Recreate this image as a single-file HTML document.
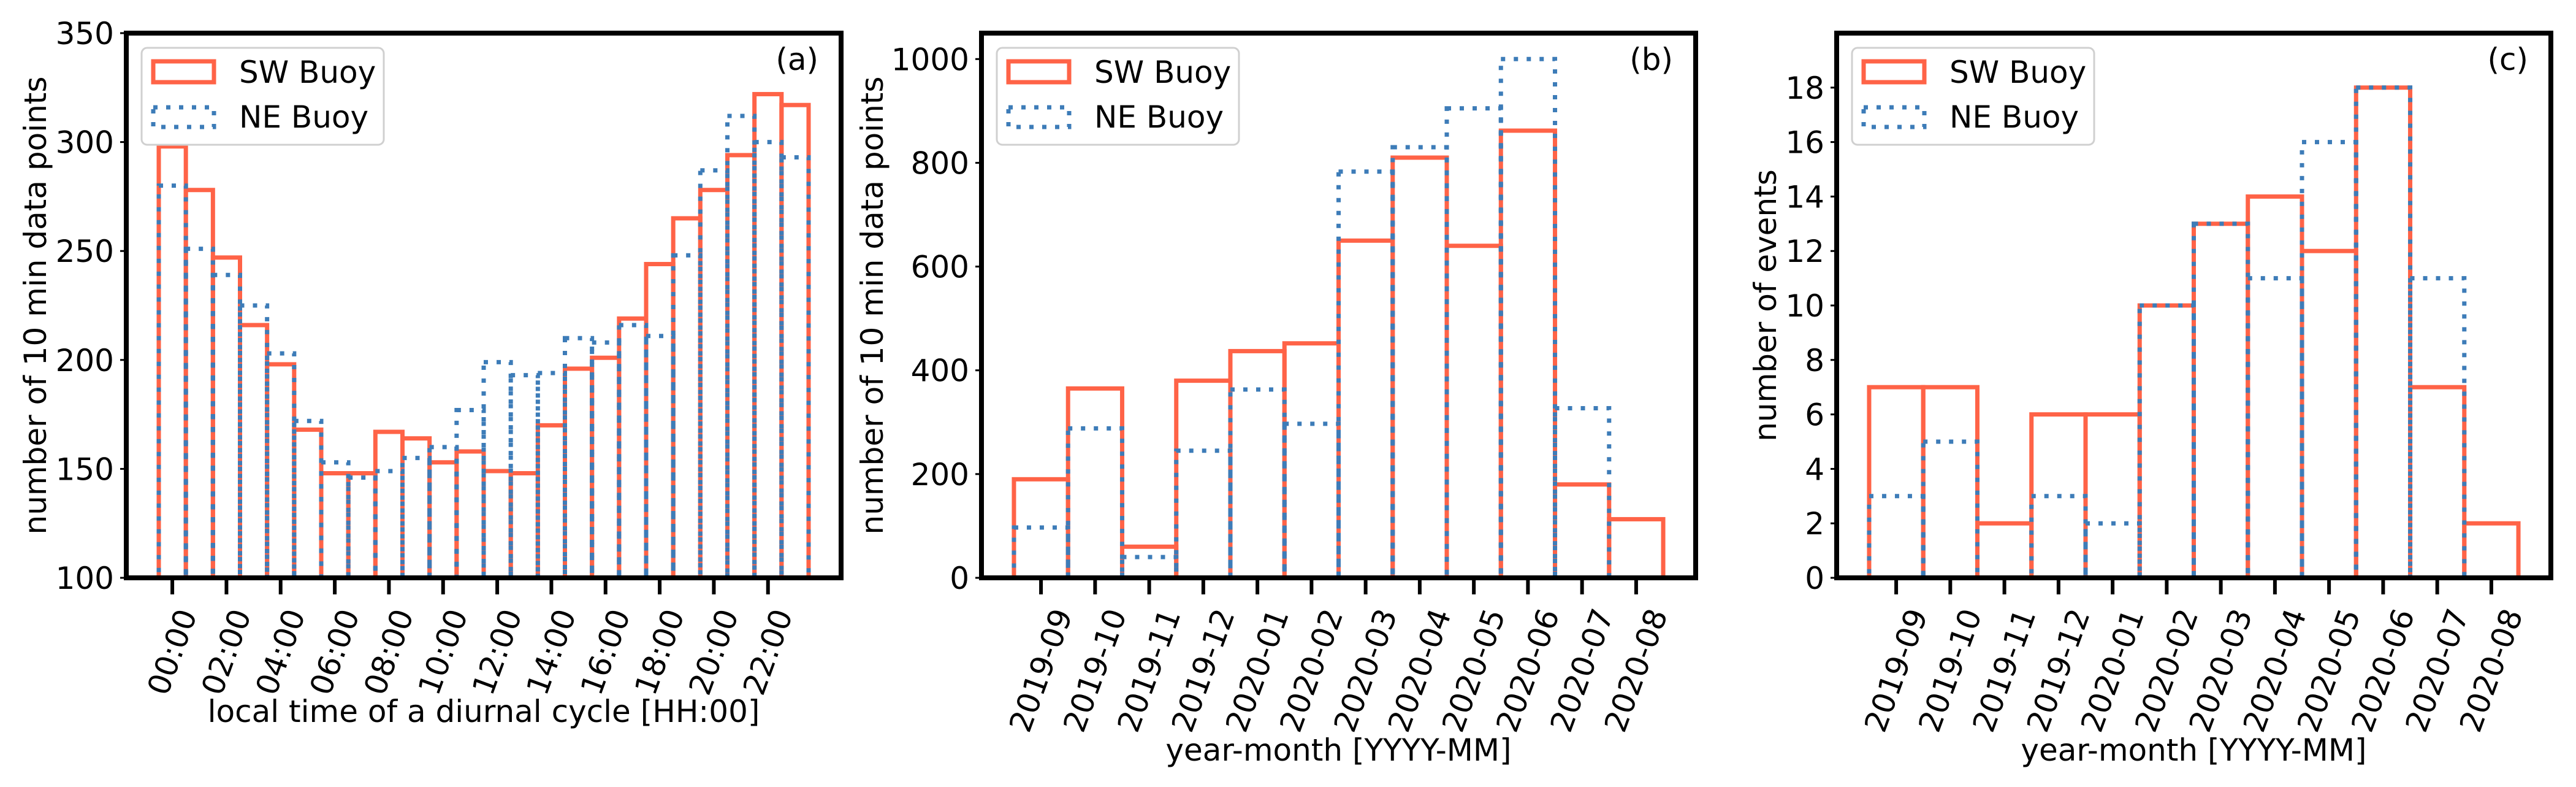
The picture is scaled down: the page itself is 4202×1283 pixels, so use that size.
<!DOCTYPE html>
<html><head><meta charset="utf-8">
<style>
html,body{margin:0;padding:0;background:#fff;}
svg{display:block;}
text{font-family:"DejaVu Sans","Liberation Sans",sans-serif;fill:#000;}
</style></head>
<body>
<svg id="fig" width="4202" height="1283" viewBox="0 0 4202 1283" xmlns="http://www.w3.org/2000/svg"></svg>
<script>
// ---- data ----
const hourLabels = ["00:00","02:00","04:00","06:00","08:00","10:00","12:00","14:00","16:00","18:00","20:00","22:00"];
const swHourly = [298,278,247,216,198,168,148,148,167,164,153,158,149,148,170,196,201,219,244,265,278,294,322,317];
const neHourly = [280,251,239,225,203,172,153,146,149,155,160,177,199,193,194,210,208,216,211,248,287,312,300,293];
const monthLabels = ["2019-09","2019-10","2019-11","2019-12","2020-01","2020-02","2020-03","2020-04","2020-05","2020-06","2020-07","2020-08"];
const swMonthly = [190,365,60,380,437,452,650,810,640,862,180,113];
const neMonthly = [97,288,40,245,363,297,783,830,905,1000,327,0];
const swEvents = [7,7,2,6,6,10,13,14,12,18,7,2];
const neEvents = [3,5,0,3,2,10,13,11,16,18,11,0];
const aTicks = [100,150,200,250,300,350];
const bTicks = [0,200,400,600,800,1000];
const cTicks = [0,2,4,6,8,10,12,14,16,18];

const NS = "http://www.w3.org/2000/svg";
const svg = document.getElementById("fig");
const RED = "#ff6347", BLUE = "#3d7cb8";
const TOP = 54, BOT = 942;
const FT = 50;

function mk(tag, attrs, parent){
  const e = document.createElementNS(NS, tag);
  for (const k in attrs) e.setAttribute(k, attrs[k]);
  (parent||svg).appendChild(e);
  return e;
}

function panel(o){
  const g = mk("g", {});
  
  
  const L=o.left, R=o.right, W=R-L;
  const nb=o.sw.length;
  const pad=nb*0.05;
  const xs = v => L + (v + pad)/(nb+2*pad)*W;
  const ys = v => BOT - (v - o.ymin)/(o.ymax - o.ymin)*(BOT-TOP);
  const cid = "clip-"+o.id;
  const cp = mk("clipPath",{id:cid}, g);
  mk("rect",{x:L,y:TOP,width:W,height:BOT-TOP},cp);
  const bars = mk("g",{"clip-path":"url(#"+cid+")"}, g);
  
  
  const series=[[o.sw,RED,null,"sw"],[o.ne,BLUE,"7 14","ne"]];
  for (const [vals,col,dash,key] of series){
    vals.forEach((v,i)=>{
      const x0=xs(i), x1=xs(i+1), y1=ys(v), y0=BOT+20;
      const r = mk("rect",{x:x0,y:y1,width:x1-x0,height:Math.max(0,y0-y1),fill:"none",stroke:col,"stroke-width":7});
      if (dash) r.setAttribute("stroke-dasharray",dash);
      
      
      bars.appendChild(r);
    });
  }
  const sp = mk("rect",{x:L,y:TOP,width:W,height:BOT-TOP,fill:"none",stroke:"#000","stroke-width":8}, g);
  
  
  o.yt.forEach(v=>{
    const y=ys(v);
    mk("line",{x1:L-10,x2:L,y1:y,y2:y,stroke:"#000","stroke-width":3}, g);
    const t=mk("text",{x:L-20,y:y+18,"text-anchor":"end","font-size":50}, g);
    t.textContent=v;
    
    
  });
  o.xl.forEach((lab,j)=>{
    const x=xs(j*o.step+0.5);
    mk("line",{x1:x,x2:x,y1:BOT+4,y2:BOT+27,stroke:"#000","stroke-width":6}, g);
    const t=mk("text",{x:0,y:0,"text-anchor":"middle","dominant-baseline":"central","font-size":50,
      transform:"translate("+x+","+o.xlc+") rotate(-70)"}, g);
    t.textContent=lab;
    
    
  });
  const xt=mk("text",{x:(L+R)/2,y:o.xty,"text-anchor":"middle","font-size":FT}, g);
  xt.textContent=o.xtitle;
  
  
  const yt=mk("text",{x:0,y:0,"text-anchor":"middle","dominant-baseline":"central","font-size":FT,
    transform:"translate("+o.ytx+","+((TOP+BOT)/2)+") rotate(-90)"}, g);
  yt.textContent=o.ytitle;
  
  
  const pl=mk("text",{x:R-37,y:114,"text-anchor":"end","font-size":FT}, g);
  pl.textContent=o.label;
  
  
  const lg=mk("g",{}, g);
  
  
  const lx=L+25;
  mk("rect",{x:lx,y:78,width:395,height:158,rx:9,fill:"#fff","fill-opacity":0.8,stroke:"#d0d0d0","stroke-width":3}, lg);
  const p1=mk("rect",{x:lx+19,y:100,width:99,height:34,fill:"none",stroke:RED,"stroke-width":7}, lg);
  
  
  const p2=mk("rect",{x:lx+19,y:175,width:99,height:32,fill:"none",stroke:BLUE,"stroke-width":7,"stroke-dasharray":"7 14"}, lg);
  
  
  const t1=mk("text",{x:lx+159,y:135,"font-size":FT}, lg); t1.textContent="SW Buoy";
  const t2=mk("text",{x:lx+159,y:208,"font-size":FT}, lg); t2.textContent="NE Buoy";
}

panel({id:"a",name:"panel-a-diurnal",left:206,right:1372,sw:swHourly,ne:neHourly,ymin:100,ymax:350,yt:aTicks,
  xl:hourLabels,step:2,xlc:1063,xtitle:"local time of a diurnal cycle [HH:00]",xty:1177,
  ytitle:"number of 10 min data points",ytx:58,label:"(a)"});
panel({id:"b",name:"panel-b-monthly",left:1601,right:2766,sw:swMonthly,ne:neMonthly,ymin:0,ymax:1050,yt:bTicks,
  xl:monthLabels,step:1,xlc:1093,xtitle:"year-month [YYYY-MM]",xty:1240,
  ytitle:"number of 10 min data points",ytx:1423,label:"(b)"});
panel({id:"c",name:"panel-c-events",left:2996,right:4161,sw:swEvents,ne:neEvents,ymin:0,ymax:20,yt:cTicks,
  xl:monthLabels,step:1,xlc:1093,xtitle:"year-month [YYYY-MM]",xty:1240,
  ytitle:"number of events",ytx:2880,label:"(c)"});
</script>
</body></html>
